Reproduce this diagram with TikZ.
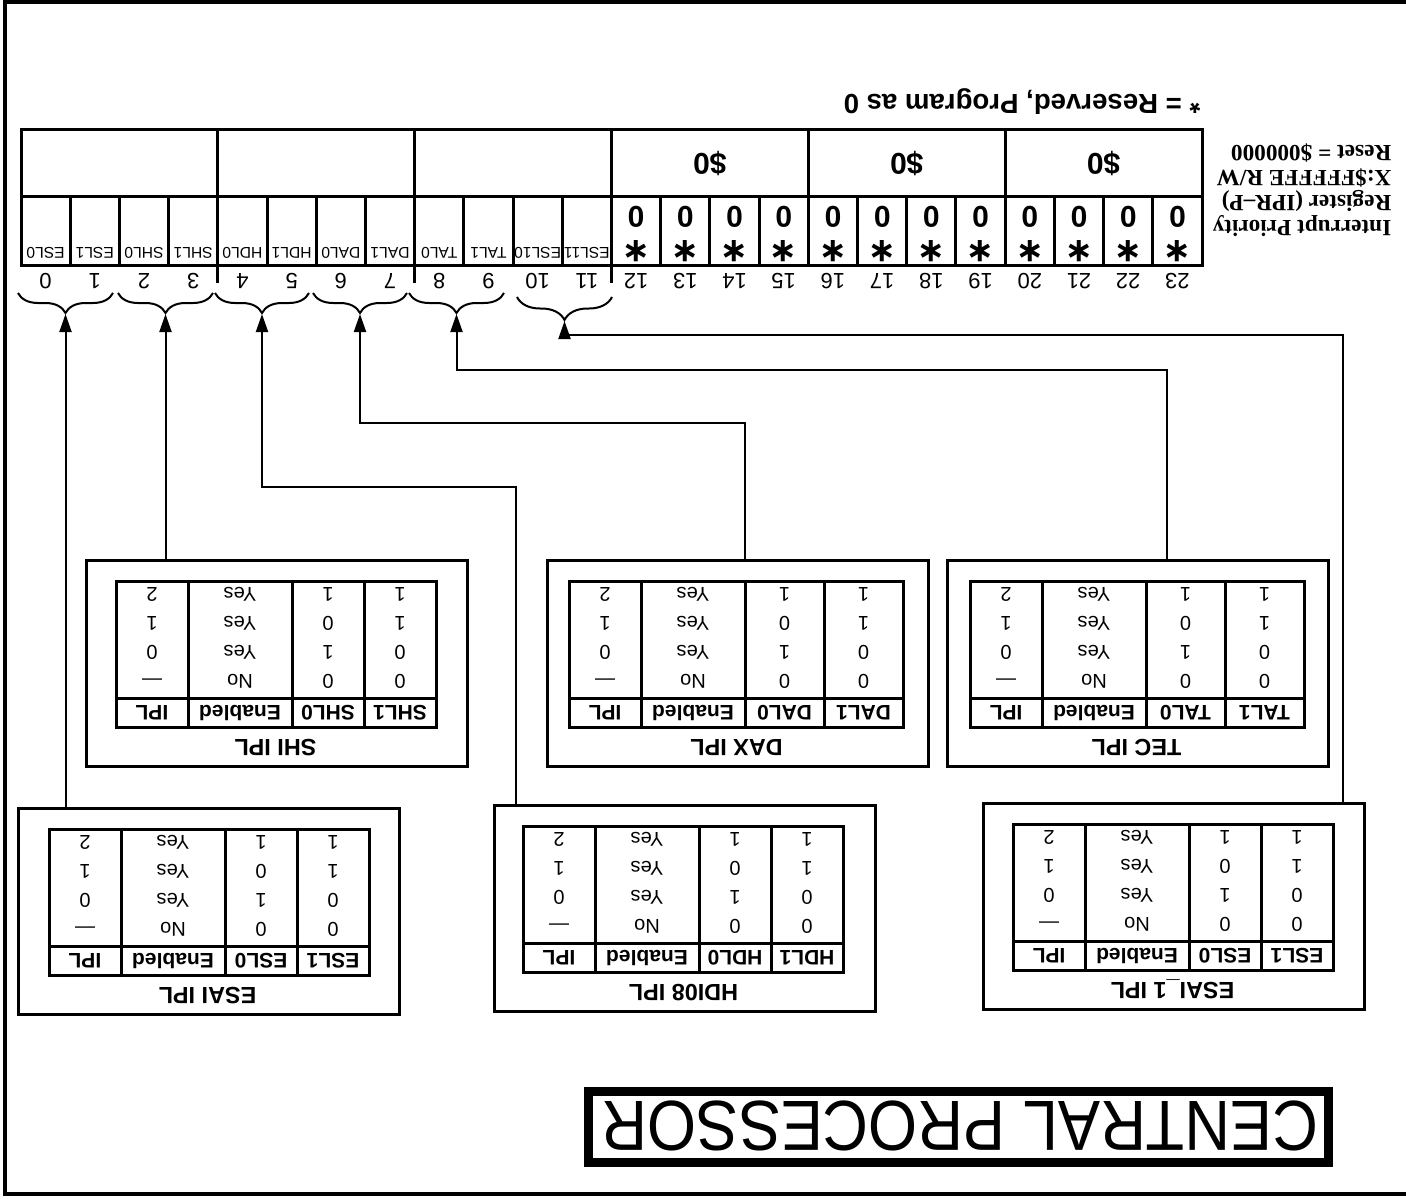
\documentclass[tikz,border=0pt]{standalone}
\usepackage{fontspec}
\setmainfont{Liberation Sans}
\newfontfamily\timesb{Liberation Serif}
\newfontfamily\djv{DejaVu Sans}
\usetikzlibrary{arrows.meta,decorations.pathreplacing}

\tikzset{
  txt/.style={rotate=180, inner sep=0pt, outer sep=0pt},
  bitn/.style={txt, font=\fontsize{11}{13}\selectfont, text height=7.9pt, text depth=0pt},
  sigc/.style={txt, font=\fontsize{7.8}{9}\selectfont, text height=5.6pt, text depth=0pt},
  zero/.style={txt, font=\fontsize{15}{17}\selectfont\bfseries, text height=10.7pt, text depth=0pt},
  star/.style={txt, font={\fontsize{17}{19}\selectfont\djv\bfseries}, anchor=base},
  hd/.style={txt, font=\fontsize{10.5}{12}\selectfont\bfseries, text height=7.5pt, text depth=0pt},
  dat/.style={txt, font=\fontsize{10}{12}\selectfont, text height=7.2pt, text depth=0pt},
  ttl/.style={txt, font=\fontsize{11.7}{14}\selectfont\bfseries, text height=8.4pt, text depth=0pt},
  notetxt/.style={txt, font=\fontsize{13.8}{16}\selectfont\bfseries, text height=9.9pt, text depth=0pt},
  lbltxt/.style={txt, align=left, font={\fontsize{11.6}{12.5}\selectfont\timesb\bfseries}},
  bigtxt/.style={txt, font=\fontsize{35.5}{40}\selectfont, text height=25.4pt, text depth=0pt, xscale=0.89},
  outerframe/.style={line width=2pt},
  reg/.style={line width=1.5pt},
  boxframe/.style={draw, line width=1.5pt, minimum width=190.5pt, minimum height=102.75pt, inner sep=0pt},
  tbl/.style={line width=1.5pt},
  conn/.style={line width=1pt, -{Triangle[length=9pt,width=6pt]}},
  brc/.style={decorate, decoration={brace, mirror, amplitude=#1}, line width=1pt},
  brc/.default=10pt,
  cpframe/.style={draw, line width=4.5pt, minimum width=370pt, minimum height=35.5pt, inner sep=0pt},
}

% #1 name, #2 title, #3 sig1, #4 sig0, #5 left x, #6 top y, #7 inner offset, #8 signal column width
\newcommand{\ipltab}[8]{%
  \node[boxframe, anchor=north west] (#1) at (#5,#6) {};
  \pgfmathsetmacro{\tL}{#5+#7}%
  \pgfmathsetmacro{\tA}{\tL+72}%
  \pgfmathsetmacro{\tB}{\tA+104}%
  \pgfmathsetmacro{\tC}{\tB+#8}%
  \pgfmathsetmacro{\tR}{\tC+#8}%
  \pgfmathsetmacro{\tT}{#6+22}%
  \pgfmathsetmacro{\tH}{#6+139}%
  \pgfmathsetmacro{\tE}{#6+168}%
  \draw[tbl] (\tL,\tT) rectangle (\tR,\tE);
  \draw[tbl] (\tL,\tH) -- (\tR,\tH);
  \draw[tbl] (\tA,\tT) -- (\tA,\tE) (\tB,\tT) -- (\tB,\tE) (\tC,\tT) -- (\tC,\tE);
  \pgfmathsetmacro{\cI}{(\tL+\tA)/2}%
  \pgfmathsetmacro{\cN}{(\tA+\tB)/2}%
  \pgfmathsetmacro{\cZ}{(\tB+\tC)/2}%
  \pgfmathsetmacro{\cO}{(\tC+\tR)/2}%
  \pgfmathsetmacro{\hY}{#6+154}%
  \node[hd] (#1-hi) at (\cI,\hY) {IPL};
  \node[hd] (#1-hn) at (\cN,\hY) {Enabled};
  \node[hd] (#1-hz) at (\cZ,\hY) {#4};
  \node[hd] (#1-ho) at (\cO,\hY) {#3};
  \foreach \yy/\vi/\vn/\vz/\vo [count=\k] in {36/2/Yes/1/1, 65/1/Yes/0/1, 94/0/Yes/1/0, 123/{—}/No/0/0} {
    \node[dat] (#1-i\k) at (\cI,#6+\yy) {\vi};
    \node[dat] (#1-n\k) at (\cN,#6+\yy) {\vn};
    \node[dat] (#1-z\k) at (\cZ,#6+\yy) {\vz};
    \node[dat] (#1-o\k) at (\cO,#6+\yy) {\vo};
  }
  \node[ttl] (#1-t) at (#5+190.5,#6+189) {#2};
}

\begin{document}
\begin{tikzpicture}[x=0.5pt,y=-0.5pt]
\useasboundingbox (0,0) rectangle (1406,1198);

% outer frame
\draw[outerframe] (1406,2) -- (5,2) -- (5,1194) -- (1406,1194);

% register
\pgfmathsetmacro{\cw}{(1202-21)/24}
\draw[reg] (21,130) rectangle (1202,265);
\draw[reg] (21,197) -- (1202,197);
\foreach \i in {1,...,23} \draw[reg] ({21+\i*\cw},197) -- ({21+\i*\cw},265);
\foreach \i in {4,8,...,20} \draw[reg] ({21+\i*\cw},130) -- ({21+\i*\cw},197);
\foreach \i in {4,8,12} \draw[reg] ({21+\i*\cw},265) -- ({21+\i*\cw},283);
\foreach \i in {0,...,23} \node[bitn] (n\i) at ({21+(\i+0.5)*\cw},281) {\i};
\foreach \i/\s in {0/ESL0,1/ESL1,2/SHL0,3/SHL1,4/HDL0,5/HDL1,6/DAL0,7/DAL1,8/TAL0,9/TAL1,10/ESL10,11/ESL11}
  \node[sigc] (s\i) at ({21+(\i+0.5)*\cw},253) {\s};
\foreach \i in {12,...,23} {
  \node[zero] (z\i) at ({21+(\i+0.5)*\cw},217) {0};
  \node[star] (a\i) at ({21+(\i+0.5)*\cw},241) {∗};
}
\foreach \g in {3,4,5} \node[zero] (d\g) at ({21+(4*\g+2)*\cw},164) {\$0};

% label and note
\node[lbltxt] (lbl) at (1302,190) {Interrupt Priority\\Register (IPR–P)\\X:\$FFFFFE R/W\\Reset = \$000000};
\node[notetxt] (note) at (1022,104) {* = Reserved, Program as 0};

% braces
\draw[brc] (18,293) -- (113,293);
\draw[brc] (118,293) -- (213,293);
\draw[brc] (215,293) -- (309,293);
\draw[brc] (313,293) -- (407,293);
\draw[brc] (409,293) -- (504,293);
\draw[brc=11.5pt] (517,297) -- (612,297);
\coordinate (b1) at (65.5,314);
\coordinate (b2) at (165.5,314);
\coordinate (b3) at (262,314);
\coordinate (b4) at (360,314);
\coordinate (b5) at (456.5,314);
\coordinate (b6) at (564.5,321);

% IPL boxes
\ipltab{shi}{SHI IPL}{SHL1}{SHL0}{85}{559}{31}{72}
\ipltab{dax}{DAX IPL}{DAL1}{DAL0}{546}{559}{23}{79}
\ipltab{tec}{TEC IPL}{TAL1}{TAL0}{946}{559}{24}{79}
\ipltab{esai}{ESAI IPL}{ESL1}{ESL0}{17}{807}{32}{72}
\ipltab{hdi}{HDI08 IPL}{HDL1}{HDL0}{493}{804}{30}{72}
\ipltab{esaia}{ESAI\_1 IPL}{ESL1}{ESL0}{982}{802}{31}{72}

% connectors
\coordinate (p3) at (516,487);
\coordinate (p4) at (745,423);
\coordinate (p5) at (1167,370);
\coordinate (p6) at (1343,335);
\draw[conn] (esai.north west -| b1) -- (b1);
\draw[conn] (shi.north west -| b2) -- (b2);
\draw[conn] (hdi.north west -| p3) -- (p3) -| (b3);
\draw[conn] (dax.north west -| p4) -- (p4) -| (b4);
\draw[conn] (tec.north west -| p5) -- (p5) -| (b5);
\draw[conn] (esaia.north west -| p6) -- (p6) -| (b6);

% central processor
\node[cpframe] (cpbox) at (958.5,1127) {};
\node[bigtxt] (cpt) at (960,1127) {CENTRAL PROCESSOR};
\end{tikzpicture}
\end{document}
